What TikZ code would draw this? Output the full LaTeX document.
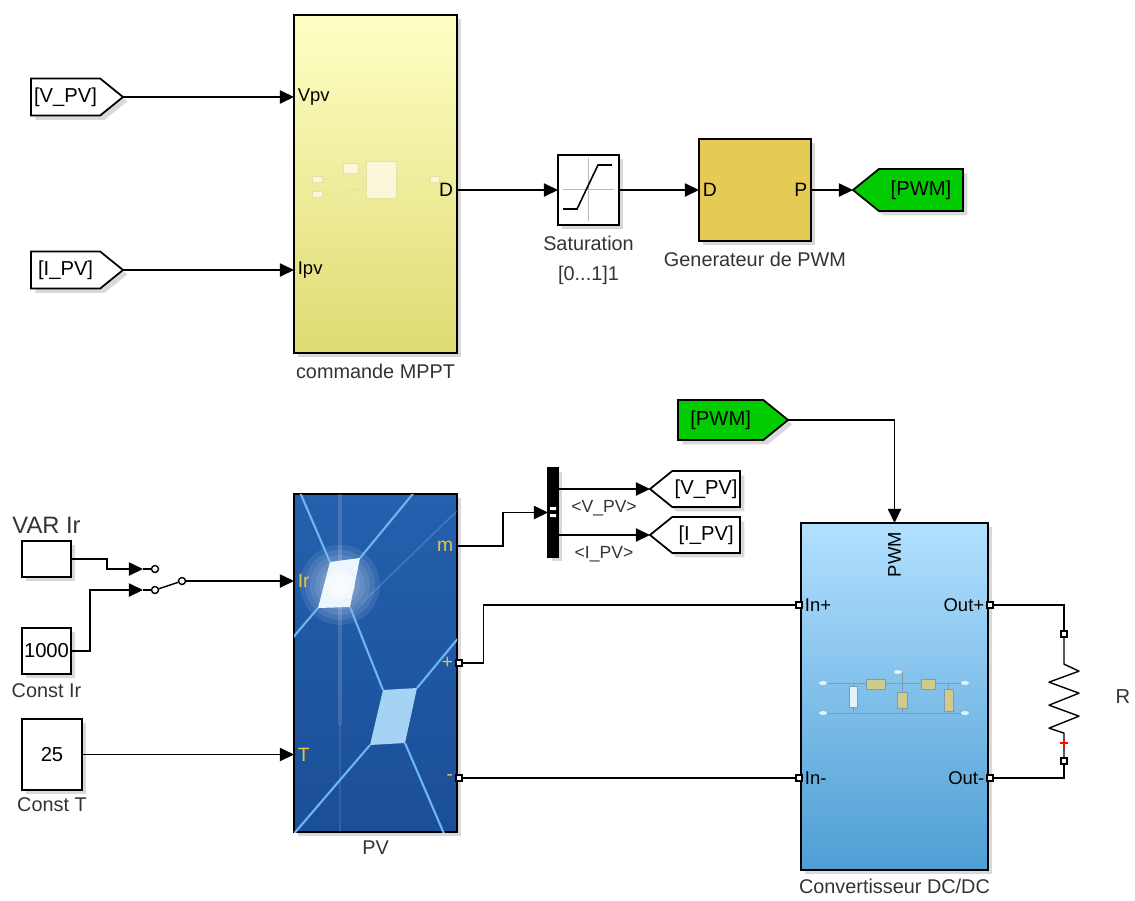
\documentclass[tikz,border=0pt]{standalone}
\usepackage{fontspec}
\setmainfont{Liberation Sans}
\usetikzlibrary{
    arrows.meta,
    calc,
    positioning,
    shapes.symbols,
    shadows
}
\definecolor{mpptyellow}{HTML}{FFFFC6}
\definecolor{mpptbottom}{HTML}{DEDB72}
\definecolor{mpptline}{HTML}{E4E0A6}
\definecolor{mpptfill}{HTML}{FBF8DA}
\definecolor{pwmgold}{HTML}{E5CB55}
\definecolor{gotogreen}{HTML}{00CC00}
\definecolor{convtop}{HTML}{B2E0FF}
\definecolor{convmid}{HTML}{94CBF0}
\definecolor{convbottom}{HTML}{4E9ED4}
\definecolor{iconline}{HTML}{7F9CB0}
\definecolor{iconyellow}{HTML}{CFCB8A}
\definecolor{iconwhite}{HTML}{E4F2FC}
\definecolor{pvtop}{HTML}{2460AE}
\definecolor{pvbottom}{HTML}{1B4E98}
\definecolor{pvline}{HTML}{6DB6F2}
\definecolor{pvcell}{HTML}{A6D2F4}
\definecolor{pvtext}{HTML}{E6C63C}
\definecolor{lbltext}{HTML}{333333}
\newcommand{\px}{0.02cm}
\newcommand{\blkname}[3]{
    \node[lbl, below=#3 of #1] (#1name) {#2};
}
\tikzset{
    wire/.style={line width=0.8pt},
    sig/.style={wire, -{Triangle[length=8pt, width=7.5pt]}},
    blk/.style={draw, line width=1pt, inner sep=0pt, outer sep=0pt,
        drop shadow={opacity=0.3, shadow xshift=2.5pt, shadow yshift=-2.5pt}},
    lbl/.style={text=lbltext, font=\fontsize{11.3}{17}\selectfont, align=center, inner sep=1pt},
    port/.style={font=\fontsize{10.5}{12}\selectfont, inner sep=2pt},
    pvport/.style={port, text=pvtext, font=\fontsize{11}{12}\selectfont},
    sublbl/.style={text=lbltext, font=\fontsize{10}{12}\selectfont, inner sep=1pt},
    tag/.style={blk, signal, signal pointer angle=78, fill=white,
        font=\fontsize{11.5}{13}\selectfont, minimum height=37*\px, inner sep=1pt},
    pin/.style={draw, line width=1.3pt, fill=white, minimum size=6*\px, inner sep=0pt},
    pole/.style={circle, draw, line width=0.8pt, fill=white, minimum size=7*\px, inner sep=0pt}
}
\begin{document}
\begin{tikzpicture}[x=\px, y=-\px]
    \useasboundingbox (0, 0) rectangle (1135, 900);

    \node[blk, minimum width=163*\px, minimum height=338*\px, anchor=north west,
        top color=mpptyellow, bottom color=mpptbottom] (mppt) at (294, 15) {};
    \begin{scope}[draw=mpptline, fill=mpptfill, line width=0.5pt]
        \draw (322, 179) -- (366, 179) (322, 194) -- (348, 194) -- (349, 189) -- (366, 189) (396, 179) -- (430, 179);
        \filldraw (312, 176) rectangle (322, 182) (312, 191) rectangle (322, 197) (430, 176) rectangle (439, 182);
        \filldraw (366, 161) rectangle (396, 198) (343, 163) rectangle (358, 173);
    \end{scope}
    \node[port, anchor=west] (vpv) at (mppt.west |- 0, 97) {Vpv};
    \node[port, anchor=west] (ipv) at (mppt.west |- 0, 270) {Ipv};
    \node[port, anchor=east, font=\fontsize{11}{12}\selectfont] (mpptd) at (mppt.east |- 0, 190) {D};
    \blkname{mppt}{commande MPPT}{5pt}

    \node[tag, signal to=east, minimum width=92*\px, anchor=east] (vpvin) at (123, 97) {[V\_PV]};
    \node[tag, signal to=east, minimum width=92*\px, anchor=east] (ipvin) at (123, 270) {[I\_PV]};
    \draw[sig] (vpvin.east) -- (vpv.west);
    \draw[sig] (ipvin.east) -- (ipv.west);

    \node[blk, fill=white, minimum width=61*\px, minimum height=70*\px] (sat) at (588.5, 190) {};
    \draw[gray!55, line width=0.5pt] (563, 189) -- (614, 189) (588, 158) -- (588, 221);
    \draw[line width=0.9pt] (563, 209) -- (577, 209) -- (598, 165) -- (612, 165);
    \blkname{sat}{Saturation\\{[0...1]1}}{5pt}
    \draw[sig] (mpptd.east) -- (sat.west);

    \node[blk, fill=pwmgold, minimum width=112*\px, minimum height=102*\px, anchor=north west] (gen) at (699, 139) {};
    \node[port, anchor=west, font=\fontsize{11}{12}\selectfont] (gend) at (gen.west) {D};
    \node[port, anchor=east, font=\fontsize{11}{12}\selectfont] (genp) at (gen.east) {P};
    \blkname{gen}{Generateur de PWM}{5pt}
    \draw[sig] (sat.east) -- (gend.west);

    \node[tag, signal to=west, fill=gotogreen, minimum width=110*\px, minimum height=42*\px, anchor=west] (pwmout) at (853, 190) {[PWM]};
    \draw[sig] (genp.east) -- (pwmout.west);

    \node[blk, fill=white, minimum width=49*\px, minimum height=36*\px, anchor=north west] (varir) at (22, 541) {};
    \node[lbl, above=3pt of varir, font=\fontsize{13.5}{15}\selectfont] (varirname) {VAR Ir};
    \node[blk, fill=white, minimum width=49*\px, minimum height=46*\px, anchor=north west,
        font=\fontsize{11.5}{13}\selectfont] (constir) at (22, 628) {1000};
    \blkname{constir}{Const Ir}{4pt}
    \node[blk, fill=white, minimum width=60*\px, minimum height=71*\px, anchor=north west,
        font=\fontsize{11.5}{13}\selectfont] (constt) at (22, 719) {25};
    \blkname{constt}{Const T}{3pt}

    \node[pole] (swa) at (155, 569) {};
    \node[pole] (swb) at (155, 590) {};
    \node[pole] (swc) at (182, 581) {};
    \coordinate (swina) at (143, 569);
    \coordinate (swinb) at (143, 590);
    \draw[sig] (varir.east) -- ++(36, 0) |- (swina);
    \draw[wire] (swina) -- (swa);
    \draw[sig] (constir.east) -- ++(19, 0) |- (swinb);
    \draw[wire] (swinb) -- (swb);
    \draw[wire] (swb) -- (swc);

    \node[blk, minimum width=163*\px, minimum height=338*\px, anchor=north west,
        top color=pvtop, bottom color=pvbottom] (pv) at (294, 494) {};
    \begin{scope}
        \clip (pv.south west) rectangle (pv.north east);
        \foreach \r in {0.2, 0.3, ..., 0.9}
            \fill[white, opacity=0.09] (340, 585) circle (\r cm);
        \fill[white, opacity=0.15] (338, 494) rectangle (342, 725);
        \fill[white, opacity=0.1] (339, 725) rectangle (341, 832);
        \draw[pvline, line width=0.8pt, opacity=0.35] (362, 603) -- (460, 508);
        \draw[pvline, line width=1.2pt] (299, 490) -- (330, 562) (416, 490) -- (360, 558) (290, 641) -- (318, 608)
            (350, 607) -- (383, 690) (460, 636) -- (417, 688) (292, 836) -- (370, 745) (445, 836) -- (405, 743);
        \fill[white!88!pvline] (330, 562) -- (360, 558) -- (350, 607) -- (318, 608) -- cycle;
        \foreach \r in {0.1, 0.2, 0.3}
            \fill[white, opacity=0.35] (340, 585) circle (\r cm);
        \fill[pvcell] (383, 690) -- (417, 688) -- (405, 743) -- (370, 745) -- cycle;
    \end{scope}
    \node[pvport, anchor=west] (pvir) at (pv.west |- swc) {Ir};
    \node[pvport, anchor=west] (pvt) at (pv.west |- constt.east) {T};
    \node[pvport, anchor=east] (pvm) at (pv.east |- 0, 546) {m};
    \node[pvport, anchor=east] (pvplus) at (pv.east |- 0, 663) {+};
    \node[pvport, anchor=east] (pvminus) at (pv.east |- 0, 778) {-};
    \node[pin, anchor=west] (pvp) at ($(pv.east |- 0, 663) + (-2, 0)$) {};
    \node[pin, anchor=west] (pvn) at ($(pv.east |- 0, 778) + (-2, 0)$) {};
    \blkname{pv}{PV}{4pt}
    \draw[sig] (swc) -- (pvir.west);
    \draw[sig] (constt.east) -- (pvt.west);

    \node[blk, fill=black, minimum width=10*\px, minimum height=89*\px, anchor=north west] (bus) at (548, 468) {};
    \fill[white] (550, 507) rectangle (556, 510) (550, 514) rectangle (556, 517);
    \draw[sig] (pvm.east) -- ++(46, 0) |- (bus.west);
    \node[tag, signal to=west, minimum width=90*\px, minimum height=36*\px, anchor=west] (vpvout) at (650, 489) {[V\_PV]};
    \node[tag, signal to=west, minimum width=90*\px, minimum height=36*\px, anchor=west] (ipvout) at (650, 535) {[I\_PV]};
    \draw[sig] (bus.east |- vpvout.west) -- node[sublbl, below=5pt] {<V\_PV>} (vpvout.west);
    \draw[sig] (bus.east |- ipvout.west) -- node[sublbl, below=5pt] {<I\_PV>} (ipvout.west);

    \node[blk, minimum width=187*\px, minimum height=347*\px, anchor=north west,
        top color=convtop, middle color=convmid, bottom color=convbottom] (conv) at (801, 523) {};
    \begin{scope}[draw=iconline, line width=0.5pt]
        \draw (823, 683) -- (965, 683) (823, 713) -- (965, 713);
        \draw (853, 683) -- (853, 713) (902, 672) -- (902, 713) (948, 683) -- (948, 713);
        \filldraw[fill=iconwhite] (849, 686) rectangle (857, 707);
        \filldraw[fill=iconyellow] (866, 679) rectangle (885, 689) (897, 692) rectangle (907, 708)
            (921, 679) rectangle (935, 689) (944, 689) rectangle (953, 711);
        \fill[iconwhite] (823, 683) ellipse (0.08cm and 0.04cm) (823, 713) ellipse (0.08cm and 0.04cm)
            (965, 683) ellipse (0.08cm and 0.04cm) (965, 713) ellipse (0.08cm and 0.04cm) (898, 672) ellipse (0.08cm and 0.04cm);
    \end{scope}
    \node[port, rotate=90, anchor=east, inner sep=5pt] (convpwm) at (conv.north) {PWM};
    \node[port, anchor=west] (inplbl) at (conv.west |- 0, 605) {In+};
    \node[port, anchor=west] (inmlbl) at (conv.west |- 0, 778) {In-};
    \node[port, anchor=east] (outplbl) at (conv.east |- 0, 605) {Out+};
    \node[port, anchor=east] (outmlbl) at (conv.east |- 0, 778) {Out-};
    \node[pin, anchor=east] (inp) at ($(conv.west |- 0, 605) + (2, 0)$) {};
    \node[pin, anchor=east] (inn) at ($(conv.west |- 0, 778) + (2, 0)$) {};
    \node[pin, anchor=west] (outp) at ($(conv.east |- 0, 605) + (-2, 0)$) {};
    \node[pin, anchor=west] (outn) at ($(conv.east |- 0, 778) + (-2, 0)$) {};
    \blkname{conv}{Convertisseur DC/DC}{4pt}

    \node[tag, signal to=east, fill=gotogreen, minimum width=110*\px, minimum height=40*\px, anchor=east] (pwmin) at (788, 420) {[PWM]};
    \draw[sig] (pwmin.east) -| (conv.north);

    \draw[wire] (pvp.east) -- ++(20, 0) |- (inp.west);
    \draw[wire] (pvn.east) -- (inn.west);

    \node[pin] (rtop) at (1064, 634) {};
    \node[pin] (rbot) at (1064, 761) {};
    \draw[wire] (outp.east) -| (rtop.north);
    \draw[wire, line join=round] (rtop.south) -- ++(0, 26) -- ++(15, 7) -- ++(-30, 11) -- ++(30, 11) -- ++(-30, 12)
        -- ++(30, 11) -- ++(-30, 12) -- ++(15, 5) -- (rbot.north);
    \draw[red, line width=0.6pt] (1060, 743) -- (1068, 743) (1064, 739) -- (1064, 747);
    \draw[wire] (rbot.south) |- (outn.east);
    \node[lbl, font=\fontsize{11.5}{13}\selectfont] (rname) at (1123, 697) {R};
\end{tikzpicture}
\end{document}
